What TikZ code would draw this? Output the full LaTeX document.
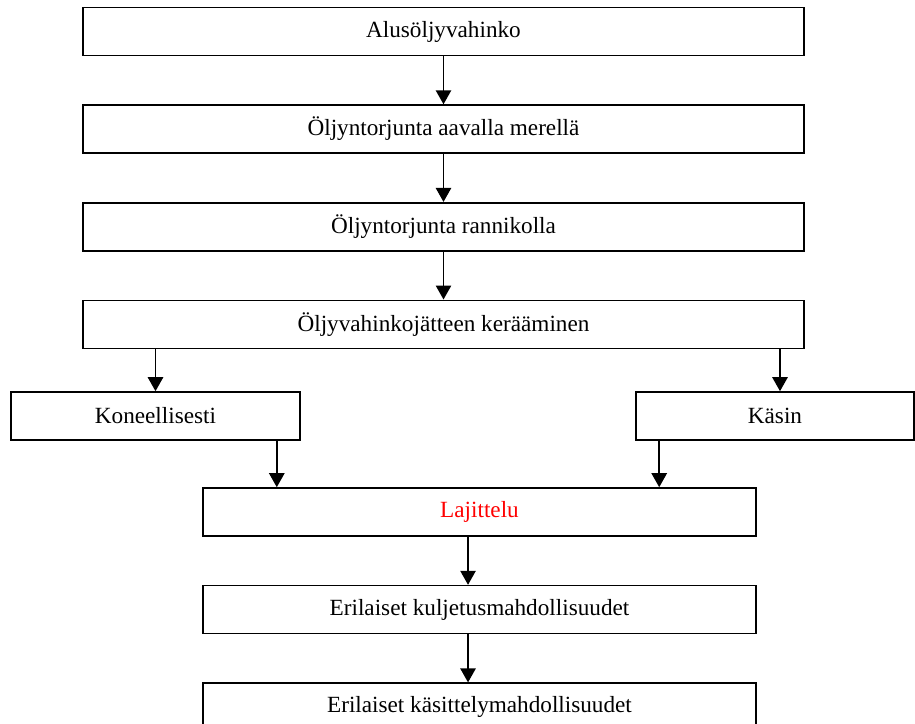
\documentclass[tikz,border=0pt]{standalone}
\usepackage{fontspec}
\setmainfont{Liberation Serif}
\usepackage{tikz}
\usetikzlibrary{arrows.meta, positioning, calc}

\begin{document}
\begin{tikzpicture}[
    x=0.75pt, y=-0.75pt,
    font=\fontsize{17.4pt}{20pt}\selectfont,
    % box styles
    laatikko/.style={rectangle, draw=black, line width=1.2pt, fill=white, minimum height=36pt, inner sep=2pt, align=center},
    leveä/.style={laatikko, minimum width=540.75pt},
    keski/.style={laatikko, minimum width=414.75pt},
    nuoli/.style={-{Triangle[length=10.5pt, width=11.5pt]}, line width=1.2pt, draw=black}
]

\useasboundingbox[fill=white] (0,0) rectangle (915,724);

% ------------------------------------------------
% main column
% ------------------------------------------------
\node[leveä] (alus) at (443.5,31.5) {Alusöljyvahinko};
\node[leveä, below=36pt of alus] (avomeri) {Öljyntorjunta aavalla merellä};
\draw[nuoli] (alus) -- (avomeri);

\node[leveä, below=36pt of avomeri] (ranta) {Öljyntorjunta rannikolla};
\draw[nuoli] (avomeri) -- (ranta);

\node[leveä, below=36pt of ranta] (keruu) {Öljyvahinkojätteen kerääminen};
\draw[nuoli] (ranta) -- (keruu);

% ------------------------------------------------
% two ways of collecting
% ------------------------------------------------
\node[laatikko, minimum width=216.75pt] (kone) at (155.5,416) {Koneellisesti};
\node[laatikko, minimum width=208.5pt] (kasin) at (775,416) {Käsin};
\draw[nuoli] (kone |- keruu.south) -- (kone.north);
\draw[nuoli] ([xshift=3.75pt]kasin.north |- keruu.south) -- ([xshift=3.75pt]kasin.north);

% ------------------------------------------------
% lower column
% ------------------------------------------------
\node[keski, text=red] (lajit) at (479.5,512) {Lajittelu};
\draw[nuoli] ($(kone.south east)+(-24,0)$) coordinate (k1) -- (k1 |- lajit.north);
\draw[nuoli] ($(kasin.south west)+(24,0)$) coordinate (k2) -- (k2 |- lajit.north);

\node[keski, below=36pt of lajit] (kulj) {Erilaiset kuljetusmahdollisuudet};
\draw[nuoli] ([xshift=-8.6pt]lajit.south) -- ([xshift=-8.6pt]kulj.north);

\node[keski, below=36pt of kulj] (kasit) {Erilaiset käsittelymahdollisuudet};
\draw[nuoli] ([xshift=-8.6pt]kulj.south) -- ([xshift=-8.6pt]kasit.north);

\end{tikzpicture}
\end{document}
